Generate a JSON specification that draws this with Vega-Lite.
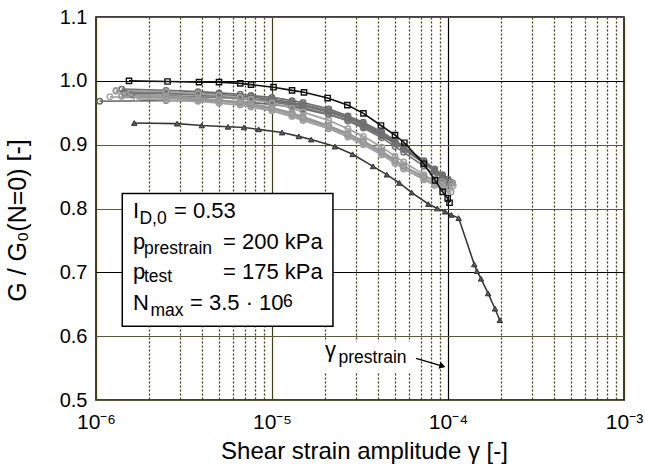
{
  "$schema": "https://vega.github.io/schema/vega-lite/v6.json",
  "width": 528,
  "height": 383,
  "autosize": {"type": "none"},
  "padding": {"left": 96, "top": 17, "right": 21, "bottom": 68},
  "background": "white",
  "config": {
    "view": {"stroke": "black", "strokeWidth": 1.5},
    "font": "Liberation Sans",
    "text": {"font": "Liberation Sans"}
  },
  "datasets": {
    "curves": [
      {"s": "g1", "x": 1.4e-6, "y": 0.987}, {"s": "g1", "x": 2.5e-6, "y": 0.985}, {"s": "g1", "x": 3.8e-6, "y": 0.983}, {"s": "g1", "x": 5e-6, "y": 0.981}, {"s": "g1", "x": 6.6e-6, "y": 0.979}, {"s": "g1", "x": 7.6e-6, "y": 0.977}, {"s": "g1", "x": 1e-5, "y": 0.974}, {"s": "g1", "x": 1.3e-5, "y": 0.969}, {"s": "g1", "x": 1.5e-5, "y": 0.966}, {"s": "g1", "x": 2.1e-5, "y": 0.956}, {"s": "g1", "x": 2.7e-5, "y": 0.945}, {"s": "g1", "x": 3.3e-5, "y": 0.935}, {"s": "g1", "x": 4.2e-5, "y": 0.92}, {"s": "g1", "x": 5e-5, "y": 0.907}, {"s": "g1", "x": 5.6e-5, "y": 0.897}, {"s": "g1", "x": 7.3e-5, "y": 0.875}, {"s": "g1", "x": 8.4e-5, "y": 0.862}, {"s": "g1", "x": 9.3e-5, "y": 0.853}, {"s": "g1", "x": 1.0e-4, "y": 0.846},
      {"s": "g2", "x": 1.45e-6, "y": 0.981}, {"s": "g2", "x": 2.5e-6, "y": 0.98}, {"s": "g2", "x": 3.8e-6, "y": 0.978}, {"s": "g2", "x": 5e-6, "y": 0.976}, {"s": "g2", "x": 6.6e-6, "y": 0.974}, {"s": "g2", "x": 7.6e-6, "y": 0.972}, {"s": "g2", "x": 1e-5, "y": 0.969}, {"s": "g2", "x": 1.3e-5, "y": 0.964}, {"s": "g2", "x": 1.5e-5, "y": 0.961}, {"s": "g2", "x": 2.1e-5, "y": 0.951}, {"s": "g2", "x": 2.7e-5, "y": 0.941}, {"s": "g2", "x": 3.3e-5, "y": 0.931}, {"s": "g2", "x": 4.2e-5, "y": 0.916}, {"s": "g2", "x": 5e-5, "y": 0.903}, {"s": "g2", "x": 5.6e-5, "y": 0.894}, {"s": "g2", "x": 7.3e-5, "y": 0.872}, {"s": "g2", "x": 8.4e-5, "y": 0.86}, {"s": "g2", "x": 9.3e-5, "y": 0.85}, {"s": "g2", "x": 1.03e-4, "y": 0.842},
      {"s": "g3", "x": 1.05e-6, "y": 0.968}, {"s": "g3", "x": 2.5e-6, "y": 0.969}, {"s": "g3", "x": 3.8e-6, "y": 0.969}, {"s": "g3", "x": 5e-6, "y": 0.968}, {"s": "g3", "x": 6.6e-6, "y": 0.967}, {"s": "g3", "x": 7.6e-6, "y": 0.966}, {"s": "g3", "x": 1e-5, "y": 0.963}, {"s": "g3", "x": 1.3e-5, "y": 0.959}, {"s": "g3", "x": 1.5e-5, "y": 0.956}, {"s": "g3", "x": 2.1e-5, "y": 0.947}, {"s": "g3", "x": 2.7e-5, "y": 0.938}, {"s": "g3", "x": 3.3e-5, "y": 0.928}, {"s": "g3", "x": 4.2e-5, "y": 0.914}, {"s": "g3", "x": 5e-5, "y": 0.902}, {"s": "g3", "x": 5.6e-5, "y": 0.893}, {"s": "g3", "x": 7.3e-5, "y": 0.871}, {"s": "g3", "x": 8.4e-5, "y": 0.858}, {"s": "g3", "x": 9.3e-5, "y": 0.848}, {"s": "g3", "x": 1.0e-4, "y": 0.838},
      {"s": "g4", "x": 1.6e-6, "y": 0.978}, {"s": "g4", "x": 2.5e-6, "y": 0.977}, {"s": "g4", "x": 3.8e-6, "y": 0.975}, {"s": "g4", "x": 5e-6, "y": 0.974}, {"s": "g4", "x": 6.6e-6, "y": 0.972}, {"s": "g4", "x": 7.6e-6, "y": 0.97}, {"s": "g4", "x": 1e-5, "y": 0.967}, {"s": "g4", "x": 1.3e-5, "y": 0.962}, {"s": "g4", "x": 1.5e-5, "y": 0.958}, {"s": "g4", "x": 2.1e-5, "y": 0.948}, {"s": "g4", "x": 2.7e-5, "y": 0.937}, {"s": "g4", "x": 3.3e-5, "y": 0.926}, {"s": "g4", "x": 4.2e-5, "y": 0.911}, {"s": "g4", "x": 5e-5, "y": 0.897}, {"s": "g4", "x": 5.6e-5, "y": 0.888}, {"s": "g4", "x": 7.3e-5, "y": 0.866}, {"s": "g4", "x": 8.4e-5, "y": 0.853}, {"s": "g4", "x": 9.3e-5, "y": 0.843}, {"s": "g4", "x": 1.0e-4, "y": 0.834},
      {"s": "g5", "x": 1.3e-6, "y": 0.984}, {"s": "g5", "x": 2.5e-6, "y": 0.982}, {"s": "g5", "x": 3.8e-6, "y": 0.98}, {"s": "g5", "x": 5e-6, "y": 0.979}, {"s": "g5", "x": 6.6e-6, "y": 0.976}, {"s": "g5", "x": 7.6e-6, "y": 0.975}, {"s": "g5", "x": 1e-5, "y": 0.971}, {"s": "g5", "x": 1.3e-5, "y": 0.966}, {"s": "g5", "x": 1.5e-5, "y": 0.963}, {"s": "g5", "x": 2.1e-5, "y": 0.953}, {"s": "g5", "x": 2.7e-5, "y": 0.943}, {"s": "g5", "x": 3.3e-5, "y": 0.933}, {"s": "g5", "x": 4.2e-5, "y": 0.918}, {"s": "g5", "x": 5e-5, "y": 0.905}, {"s": "g5", "x": 5.6e-5, "y": 0.896}, {"s": "g5", "x": 7.3e-5, "y": 0.874}, {"s": "g5", "x": 8.4e-5, "y": 0.861}, {"s": "g5", "x": 9.3e-5, "y": 0.851}, {"s": "g5", "x": 1.06e-4, "y": 0.84},
      {"s": "g6", "x": 1.3e-6, "y": 0.985}, {"s": "g6", "x": 2.5e-6, "y": 0.983}, {"s": "g6", "x": 3.8e-6, "y": 0.98}, {"s": "g6", "x": 5e-6, "y": 0.977}, {"s": "g6", "x": 6.6e-6, "y": 0.974}, {"s": "g6", "x": 7.6e-6, "y": 0.971}, {"s": "g6", "x": 1e-5, "y": 0.965}, {"s": "g6", "x": 1.3e-5, "y": 0.957}, {"s": "g6", "x": 1.5e-5, "y": 0.951}, {"s": "g6", "x": 2.1e-5, "y": 0.938}, {"s": "g6", "x": 2.7e-5, "y": 0.925}, {"s": "g6", "x": 3.3e-5, "y": 0.913}, {"s": "g6", "x": 4.2e-5, "y": 0.896}, {"s": "g6", "x": 5e-5, "y": 0.882}, {"s": "g6", "x": 5.6e-5, "y": 0.873}, {"s": "g6", "x": 7.3e-5, "y": 0.853}, {"s": "g6", "x": 8.4e-5, "y": 0.842}, {"s": "g6", "x": 9.3e-5, "y": 0.835}, {"s": "g6", "x": 1.0e-4, "y": 0.83},
      {"s": "g7", "x": 1.5e-6, "y": 0.978}, {"s": "g7", "x": 2.5e-6, "y": 0.976}, {"s": "g7", "x": 3.8e-6, "y": 0.973}, {"s": "g7", "x": 5e-6, "y": 0.97}, {"s": "g7", "x": 6.6e-6, "y": 0.967}, {"s": "g7", "x": 7.6e-6, "y": 0.964}, {"s": "g7", "x": 1e-5, "y": 0.958}, {"s": "g7", "x": 1.3e-5, "y": 0.95}, {"s": "g7", "x": 1.5e-5, "y": 0.944}, {"s": "g7", "x": 2.1e-5, "y": 0.93}, {"s": "g7", "x": 2.7e-5, "y": 0.918}, {"s": "g7", "x": 3.3e-5, "y": 0.906}, {"s": "g7", "x": 4.2e-5, "y": 0.89}, {"s": "g7", "x": 5e-5, "y": 0.876}, {"s": "g7", "x": 5.6e-5, "y": 0.867}, {"s": "g7", "x": 7.3e-5, "y": 0.848}, {"s": "g7", "x": 8.4e-5, "y": 0.838}, {"s": "g7", "x": 9.3e-5, "y": 0.832}, {"s": "g7", "x": 1.04e-4, "y": 0.826},
      {"s": "g8", "x": 1.2e-6, "y": 0.975}, {"s": "g8", "x": 2.5e-6, "y": 0.973}, {"s": "g8", "x": 3.8e-6, "y": 0.97}, {"s": "g8", "x": 5e-6, "y": 0.968}, {"s": "g8", "x": 6.6e-6, "y": 0.964}, {"s": "g8", "x": 7.6e-6, "y": 0.961}, {"s": "g8", "x": 1e-5, "y": 0.955}, {"s": "g8", "x": 1.3e-5, "y": 0.946}, {"s": "g8", "x": 1.5e-5, "y": 0.94}, {"s": "g8", "x": 2.1e-5, "y": 0.927}, {"s": "g8", "x": 2.7e-5, "y": 0.914}, {"s": "g8", "x": 3.3e-5, "y": 0.902}, {"s": "g8", "x": 4.2e-5, "y": 0.886}, {"s": "g8", "x": 5e-5, "y": 0.872}, {"s": "g8", "x": 5.6e-5, "y": 0.863}, {"s": "g8", "x": 7.3e-5, "y": 0.845}, {"s": "g8", "x": 8.4e-5, "y": 0.836}, {"s": "g8", "x": 9.3e-5, "y": 0.831}, {"s": "g8", "x": 1.0e-4, "y": 0.826},
      {"s": "g9", "x": 1.7e-6, "y": 0.972}, {"s": "g9", "x": 2.5e-6, "y": 0.97}, {"s": "g9", "x": 3.8e-6, "y": 0.968}, {"s": "g9", "x": 5e-6, "y": 0.965}, {"s": "g9", "x": 6.6e-6, "y": 0.962}, {"s": "g9", "x": 7.6e-6, "y": 0.959}, {"s": "g9", "x": 1e-5, "y": 0.953}, {"s": "g9", "x": 1.3e-5, "y": 0.944}, {"s": "g9", "x": 1.5e-5, "y": 0.938}, {"s": "g9", "x": 2.1e-5, "y": 0.925}, {"s": "g9", "x": 2.7e-5, "y": 0.912}, {"s": "g9", "x": 3.3e-5, "y": 0.9}, {"s": "g9", "x": 4.2e-5, "y": 0.884}, {"s": "g9", "x": 5e-5, "y": 0.871}, {"s": "g9", "x": 5.6e-5, "y": 0.862}, {"s": "g9", "x": 7.3e-5, "y": 0.846}, {"s": "g9", "x": 8.4e-5, "y": 0.84}, {"s": "g9", "x": 9.3e-5, "y": 0.838}, {"s": "g9", "x": 1.07e-4, "y": 0.836},
      {"s": "g10", "x": 1.4e-6, "y": 0.976}, {"s": "g10", "x": 2.5e-6, "y": 0.974}, {"s": "g10", "x": 3.8e-6, "y": 0.971}, {"s": "g10", "x": 5e-6, "y": 0.969}, {"s": "g10", "x": 6.6e-6, "y": 0.966}, {"s": "g10", "x": 7.6e-6, "y": 0.962}, {"s": "g10", "x": 1e-5, "y": 0.957}, {"s": "g10", "x": 1.3e-5, "y": 0.948}, {"s": "g10", "x": 1.5e-5, "y": 0.942}, {"s": "g10", "x": 2.1e-5, "y": 0.929}, {"s": "g10", "x": 2.7e-5, "y": 0.916}, {"s": "g10", "x": 3.3e-5, "y": 0.904}, {"s": "g10", "x": 4.2e-5, "y": 0.888}, {"s": "g10", "x": 5e-5, "y": 0.875}, {"s": "g10", "x": 5.6e-5, "y": 0.866}, {"s": "g10", "x": 7.3e-5, "y": 0.85}, {"s": "g10", "x": 8.4e-5, "y": 0.845}, {"s": "g10", "x": 9.3e-5, "y": 0.842}, {"s": "g10", "x": 1.05e-4, "y": 0.84},
      {"s": "b", "x": 1.54e-6, "y": 1.0}, {"s": "b", "x": 2.55e-6, "y": 0.999}, {"s": "b", "x": 3.85e-6, "y": 0.998}, {"s": "b", "x": 5.0e-6, "y": 0.998}, {"s": "b", "x": 6.6e-6, "y": 0.996}, {"s": "b", "x": 7.6e-6, "y": 0.994}, {"s": "b", "x": 1.02e-5, "y": 0.99}, {"s": "b", "x": 1.3e-5, "y": 0.985}, {"s": "b", "x": 1.52e-5, "y": 0.982}, {"s": "b", "x": 2.07e-5, "y": 0.973}, {"s": "b", "x": 2.68e-5, "y": 0.962}, {"s": "b", "x": 3.31e-5, "y": 0.949}, {"s": "b", "x": 4.16e-5, "y": 0.93}, {"s": "b", "x": 5.0e-5, "y": 0.915}, {"s": "b", "x": 5.65e-5, "y": 0.903}, {"s": "b", "x": 7.28e-5, "y": 0.87}, {"s": "b", "x": 8.44e-5, "y": 0.844}, {"s": "b", "x": 9.33e-5, "y": 0.826}, {"s": "b", "x": 9.96e-5, "y": 0.816}, {"s": "b", "x": 1.02e-4, "y": 0.809},
      {"s": "t", "x": 1.65e-6, "y": 0.934}, {"s": "t", "x": 2.89e-6, "y": 0.933}, {"s": "t", "x": 3.99e-6, "y": 0.93}, {"s": "t", "x": 5.62e-6, "y": 0.928}, {"s": "t", "x": 6.93e-6, "y": 0.927}, {"s": "t", "x": 8.4e-6, "y": 0.924}, {"s": "t", "x": 1.14e-5, "y": 0.919}, {"s": "t", "x": 1.42e-5, "y": 0.913}, {"s": "t", "x": 1.67e-5, "y": 0.908}, {"s": "t", "x": 2.28e-5, "y": 0.897}, {"s": "t", "x": 2.87e-5, "y": 0.885}, {"s": "t", "x": 3.75e-5, "y": 0.866}, {"s": "t", "x": 4.49e-5, "y": 0.853}, {"s": "t", "x": 5.29e-5, "y": 0.84}, {"s": "t", "x": 6.22e-5, "y": 0.825}, {"s": "t", "x": 7.73e-5, "y": 0.807}, {"s": "t", "x": 8.69e-5, "y": 0.8}, {"s": "t", "x": 9.62e-5, "y": 0.795}, {"s": "t", "x": 1.045e-4, "y": 0.79}, {"s": "t", "x": 1.15e-4, "y": 0.785}, {"s": "t", "x": 1.41e-4, "y": 0.7125}, {"s": "t", "x": 1.46e-4, "y": 0.702}, {"s": "t", "x": 1.54e-4, "y": 0.69}, {"s": "t", "x": 1.69e-4, "y": 0.667}, {"s": "t", "x": 1.85e-4, "y": 0.643}, {"s": "t", "x": 1.97e-4, "y": 0.625}
    ],
    "boxes": [
      {"k": "legend", "x": 1.41e-6, "x2": 2.22e-5, "y": 0.8234, "y2": 0.6156}
    ],
    "labelbg": [
      {"k": "gamma", "x": 1.82e-5, "x2": 6.3e-5, "y": 0.591, "y2": 0.544}
    ],
    "maintext": [
      {"t": "I", "x": 1.623e-6, "y": 0.7844},
      {"t": "= 0.53", "x": 2.775e-6, "y": 0.7844},
      {"t": "p", "x": 1.623e-6, "y": 0.7359},
      {"t": "= 200 kPa", "x": 5.27e-6, "y": 0.7359},
      {"t": "p", "x": 1.623e-6, "y": 0.6898},
      {"t": "= 175 kPa", "x": 5.27e-6, "y": 0.6898},
      {"t": "N", "x": 1.623e-6, "y": 0.6414},
      {"t": "= 3.5 · 10", "x": 3.42e-6, "y": 0.6414},
      {"t": "γ", "x": 2.0e-5, "y": 0.567}
    ],
    "subtext": [
      {"t": "D,0", "x": 1.766e-6, "y": 0.7758},
      {"t": "prestrain", "x": 1.874e-6, "y": 0.7289},
      {"t": "test", "x": 1.874e-6, "y": 0.6844},
      {"t": "max", "x": 2.04e-6, "y": 0.632},
      {"t": "6", "x": 1.155e-5, "y": 0.6464},
      {"t": "prestrain", "x": 2.387e-5, "y": 0.5586}
    ],
    "arrow": [
      {"x": 6.58e-5, "y": 0.5652, "x2": 9.3e-5, "y2": 0.5531}
    ],
    "arrowhead": [
      {"x": 9.3e-5, "y": 0.5531}
    ]
  },
  "layer": [
    {
      "data": {"name": "curves"},
      "transform": [{"filter": "datum.s != 'b' && datum.s != 't'"}],
      "mark": {"type": "line", "strokeWidth": 1.7},
      "encoding": {
        "x": {
          "field": "x", "type": "quantitative",
          "scale": {"type": "log", "domain": [1e-6, 1e-3], "nice": false},
          "axis": {
            "title": "Shear strain amplitude γ [-]",
            "titleFontSize": 24, "titleFont": "Liberation Sans", "titleFontWeight": "normal", "titleColor": "black",
            "titleBaseline": "alphabetic", "titleY": 58, "titleX": 268,
            "values": [1e-6, 2e-6, 3e-6, 4e-6, 5e-6, 6e-6, 7e-6, 8e-6, 9e-6, 1e-5, 2e-5, 3e-5, 4e-5, 5e-5, 6e-5, 7e-5, 8e-5, 9e-5, 1e-4, 2e-4, 3e-4, 4e-4, 5e-4, 6e-4, 7e-4, 8e-4, 9e-4, 1e-3],
            "labelExpr": "abs(log(datum.value)/LN10 - round(log(datum.value)/LN10)) < 0.001 ? (round(log(datum.value)/LN10) == -6 ? '10⁻⁶' : round(log(datum.value)/LN10) == -5 ? '10⁻⁵' : round(log(datum.value)/LN10) == -4 ? '10⁻⁴' : '10⁻³') : ''",
            "labelFontSize": 21, "labelFont": "Liberation Sans", "labelColor": "black",
            "labelOverlap": false, "labelFlush": false, "labelBaseline": "alphabetic", "labelPadding": 28, "labelDx": 5,
            "ticks": false, "domain": false,
            "grid": true,
            "gridWidth": {"condition": {"test": "abs(log(datum.value)/LN10 - round(log(datum.value)/LN10)) < 0.001", "value": 1.2}, "value": 1.3},
            "gridColor": {"condition": {"test": "abs(datum.value - 0.0001) < 1e-9", "value": "black"}, "value": "#404018"},
            "gridDash": {"condition": {"test": "abs(log(datum.value)/LN10 - round(log(datum.value)/LN10)) < 0.001", "value": []}, "value": [2, 2]},
            "gridOpacity": 1
          }
        },
        "y": {
          "field": "y", "type": "quantitative",
          "scale": {"domain": [0.5, 1.1], "nice": false, "zero": false},
          "axis": {
            "title": "G / G₀(N=0) [-]",
            "titleFontSize": 25, "titleFont": "Liberation Sans", "titleFontWeight": "normal", "titleColor": "black",
            "titleAngle": -90, "titleBaseline": "middle", "titleX": -79, "titleY": 203,
            "values": [0.5, 0.6, 0.7, 0.8, 0.9, 1.0, 1.1],
            "format": ".1f",
            "labelFontSize": 20, "labelFont": "Liberation Sans", "labelColor": "black", "labelPadding": 9,
            "ticks": false, "domain": false,
            "grid": true, "gridWidth": 1.2, "gridOpacity": 1,
            "gridColor": {"condition": {"test": "abs(datum.value - 1) < 0.001 || abs(datum.value - 0.7) < 0.001", "value": "black"}, "value": "#5b5b33"}
          }
        },
        "color": {
          "field": "s", "type": "nominal", "legend": null,
          "scale": {
            "domain": ["g1", "g2", "g3", "g4", "g5", "g6", "g7", "g8", "g9", "g10", "b", "t"],
            "range": ["#6c6c6c", "#727272", "#6a6a6a", "#777777", "#707070", "#a2a2a2", "#9c9c9c", "#a8a8a8", "#a0a0a0", "#969696", "#111111", "#3a3a3a"]
          }
        }
      }
    },
    {
      "data": {"name": "curves"},
      "transform": [{"filter": "datum.s != 'b' && datum.s != 't'"}],
      "mark": {"type": "point", "shape": "circle", "filled": false, "size": 30, "strokeWidth": 1.5, "opacity": 1},
      "encoding": {
        "x": {"field": "x", "type": "quantitative"},
        "y": {"field": "y", "type": "quantitative"},
        "color": {"field": "s", "type": "nominal", "legend": null}
      }
    },
    {
      "data": {"name": "curves"},
      "transform": [{"filter": "datum.s == 'b'"}],
      "mark": {"type": "line", "strokeWidth": 1.6},
      "encoding": {
        "x": {"field": "x", "type": "quantitative"},
        "y": {"field": "y", "type": "quantitative"},
        "color": {"field": "s", "type": "nominal", "legend": null}
      }
    },
    {
      "data": {"name": "curves"},
      "transform": [{"filter": "datum.s == 'b'"}],
      "mark": {"type": "point", "shape": "square", "filled": false, "size": 28, "strokeWidth": 1.4, "opacity": 1},
      "encoding": {
        "x": {"field": "x", "type": "quantitative"},
        "y": {"field": "y", "type": "quantitative"},
        "color": {"field": "s", "type": "nominal", "legend": null}
      }
    },
    {
      "data": {"name": "curves"},
      "transform": [{"filter": "datum.s == 't'"}],
      "mark": {"type": "line", "strokeWidth": 1.6},
      "encoding": {
        "x": {"field": "x", "type": "quantitative"},
        "y": {"field": "y", "type": "quantitative"},
        "color": {"field": "s", "type": "nominal", "legend": null}
      }
    },
    {
      "data": {"name": "curves"},
      "transform": [{"filter": "datum.s == 't'"}],
      "mark": {"type": "point", "shape": "triangle-up", "filled": true, "size": 30, "fill": "#5a5a5a", "stroke": "#333333", "strokeWidth": 1, "opacity": 1},
      "encoding": {
        "x": {"field": "x", "type": "quantitative"},
        "y": {"field": "y", "type": "quantitative"}
      }
    },
    {
      "data": {"name": "boxes"},
      "mark": {"type": "rect", "fill": "white", "stroke": "black", "strokeWidth": 1.5},
      "encoding": {
        "x": {"field": "x", "type": "quantitative"},
        "x2": {"field": "x2"},
        "y": {"field": "y", "type": "quantitative"},
        "y2": {"field": "y2"}
      }
    },
    {
      "data": {"name": "labelbg"},
      "mark": {"type": "rect", "fill": "white", "stroke": null},
      "encoding": {
        "x": {"field": "x", "type": "quantitative"},
        "x2": {"field": "x2"},
        "y": {"field": "y", "type": "quantitative"},
        "y2": {"field": "y2"}
      }
    },
    {
      "data": {"name": "maintext"},
      "mark": {"type": "text", "fontSize": 22, "align": "left", "baseline": "alphabetic", "color": "black", "font": "Liberation Sans"},
      "encoding": {
        "x": {"field": "x", "type": "quantitative"},
        "y": {"field": "y", "type": "quantitative"},
        "text": {"field": "t"}
      }
    },
    {
      "data": {"name": "subtext"},
      "mark": {"type": "text", "fontSize": 17.5, "align": "left", "baseline": "alphabetic", "color": "black", "font": "Liberation Sans"},
      "encoding": {
        "x": {"field": "x", "type": "quantitative"},
        "y": {"field": "y", "type": "quantitative"},
        "text": {"field": "t"}
      }
    },
    {
      "data": {"name": "arrow"},
      "mark": {"type": "rule", "color": "black", "strokeWidth": 1.5},
      "encoding": {
        "x": {"field": "x", "type": "quantitative"},
        "y": {"field": "y", "type": "quantitative"},
        "x2": {"field": "x2"},
        "y2": {"field": "y2"}
      }
    },
    {
      "data": {"name": "arrowhead"},
      "mark": {"type": "point", "shape": "triangle-right", "filled": true, "color": "black", "size": 50, "angle": 16, "opacity": 1},
      "encoding": {
        "x": {"field": "x", "type": "quantitative"},
        "y": {"field": "y", "type": "quantitative"}
      }
    }
  ]
}
